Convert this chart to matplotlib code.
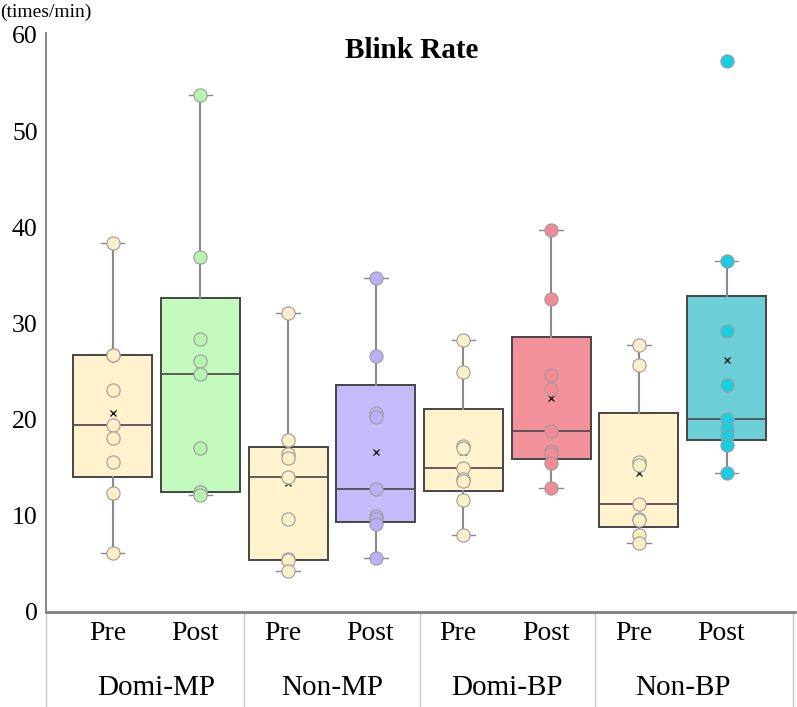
import numpy as np
import matplotlib
matplotlib.use('Agg')
import matplotlib.pyplot as plt

plt.rcParams['font.family'] = ['Liberation Serif', 'DejaVu Serif']

groups = ['Domi-MP', 'Non-MP', 'Domi-BP', 'Non-BP']
phases = ['Pre', 'Post']

# blink rate (times/min) per subject
pre_domi_mp = [38.4, 26.7, 26.7, 23.1, 19.4, 18.1, 15.6, 12.4, 6.1]
post_domi_mp = [53.7, 36.9, 28.4, 26.1, 24.7, 17.0, 12.5, 12.5, 12.2]
pre_non_mp = [31.1, 17.9, 16.4, 16.0, 14.0, 9.7, 5.5, 5.4, 4.3]
post_non_mp = [34.7, 26.6, 20.7, 20.3, 12.8, 10.0, 9.7, 9.1, 5.6]
pre_domi_bp = [28.3, 24.9, 17.3, 17.1, 15.0, 13.8, 13.6, 11.6, 8.0]
post_domi_bp = [39.7, 32.5, 24.6, 23.2, 18.8, 16.7, 16.4, 15.5, 12.9]
pre_non_bp = [27.8, 25.7, 15.6, 15.3, 11.2, 9.7, 9.6, 8.0, 7.2]
post_non_bp = [57.3, 36.5, 29.2, 23.6, 20.1, 19.1, 18.3, 17.4, 14.4]

series = [pre_domi_mp, post_domi_mp, pre_non_mp, post_non_mp,
          pre_domi_bp, post_domi_bp, pre_non_bp, post_non_bp]

pre_box, pre_dot = '#FFF2CC', '#FFEFC6'
box_colors = [pre_box, '#C3FABD', pre_box, '#C6BBFA', pre_box, '#F4929B', pre_box, '#6CCFD8']
dot_colors = [pre_dot, '#B7F5B0', pre_dot, '#BBAFF7', pre_dot, '#F48A96', pre_dot, '#18CEE3']


def box_stats(values):
    # exclusive quartiles, like Excel's box and whisker chart
    v = np.sort(np.array(values, dtype=float))
    q1, med, q3 = np.percentile(v, [25, 50, 75], method='weibull')
    iqr = q3 - q1
    lo = v[v >= q1 - 1.5 * iqr].min()
    hi = v[v <= q3 + 1.5 * iqr].max()
    return dict(med=med, q1=q1, q3=q3, whislo=lo, whishi=hi, mean=v.mean(), fliers=[])


fig = plt.figure(figsize=(7.97, 7.07), dpi=100)
ax = fig.add_axes([0.0577, 0.1344, 0.9398, 0.8190])

pos = np.arange(len(series))
stats = [box_stats(s) for s in series]
bp = ax.bxp(stats, positions=pos, widths=0.9, capwidths=0.27, patch_artist=True,
            showmeans=True, showfliers=False,
            boxprops=dict(edgecolor='#454545', linewidth=1.4),
            medianprops=dict(color='#505050', linewidth=1.3),
            whiskerprops=dict(color='#8a8a8a', linewidth=1.5),
            capprops=dict(color='#8a8a8a', linewidth=1.0),
            meanprops=dict(marker='x', markeredgecolor='#222222', markersize=5,
                           markeredgewidth=1.0))
for patch, c in zip(bp['boxes'], box_colors):
    patch.set_facecolor(c)

for i, s in enumerate(series):
    ax.scatter(np.full(len(s), pos[i]), s, s=90, color=dot_colors[i],
               edgecolors='#9c9c9c', linewidths=0.8, zorder=5, clip_on=False)

ax.set_xlim(-0.76, 7.78)
ax.set_ylim(0, 60.2)
ax.set_yticks(range(0, 61, 10))
ax.tick_params(axis='y', length=0, labelsize=18.5, pad=6)
ax.set_xticks([])
for side in ['top', 'right']:
    ax.spines[side].set_visible(False)
ax.spines['left'].set_color('#808080')
ax.spines['left'].set_linewidth(1.3)
ax.spines['bottom'].set_color('#808080')
ax.spines['bottom'].set_linewidth(2.0)

# category table under the axis
tr = ax.get_xaxis_transform()
for xs in [-0.76, 1.5, 3.5, 5.5, 7.76]:
    ax.plot([xs, xs], [0, -0.17], transform=tr, color='#c8c8c8', linewidth=1.0, clip_on=False)
for i, p in enumerate(pos):
    ax.text(p - 0.06, -0.038, phases[i % 2], transform=tr, ha='center', va='center', fontsize=20)
for g, name in enumerate(groups):
    ax.text(2 * g + 0.5, -0.131, name, transform=tr, ha='center', va='center', fontsize=21)

ax.text(0.488, 0.97, 'Blink Rate', transform=ax.transAxes, ha='center', va='center',
        fontsize=21, fontweight='bold')
fig.text(0.0, 1 - 12 / 707, '(times/min)', ha='left', va='center', fontsize=14)

fig.savefig('out.png', dpi=100)
